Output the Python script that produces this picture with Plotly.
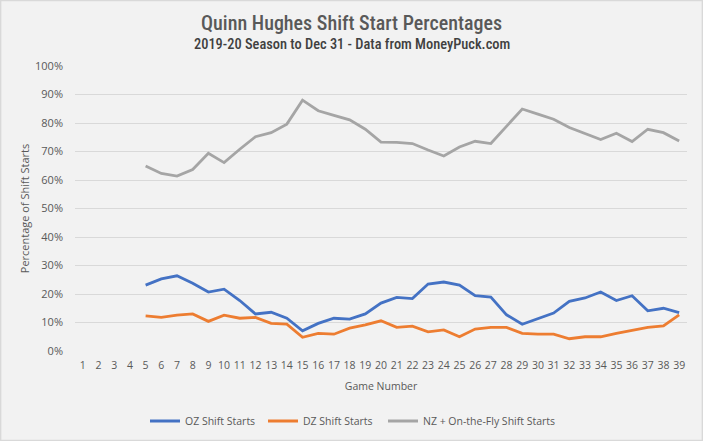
import plotly.graph_objects as go

games = list(range(1, 40))
oz = [None, None, None, None,
      23.1, 25.3, 26.4, 23.8, 20.7, 21.7, 17.7, 13.0, 13.6, 11.5, 7.1, 9.7, 11.5, 11.2, 13.0,
      16.8, 18.8, 18.4, 23.5, 24.2, 23.1, 19.4, 18.9, 12.7, 9.4, 11.3, 13.3, 17.4, 18.6,
      20.7, 17.7, 19.4, 14.1, 15.0, 13.5]
dz = [None, None, None, None,
      12.3, 11.8, 12.6, 13.0, 10.4, 12.6, 11.5, 11.8, 9.7, 9.4, 4.8, 6.2, 5.9, 8.0, 9.2,
      10.6, 8.3, 8.7, 6.7, 7.4, 5.0, 7.7, 8.3, 8.3, 6.2, 5.9, 5.9, 4.3, 5.0,
      5.0, 6.2, 7.3, 8.3, 8.8, 12.7]
nz = [None, None, None, None,
      64.9, 62.3, 61.4, 63.7, 69.4, 66.1, 70.8, 75.2, 76.6, 79.6, 88.0, 84.3, 82.7, 81.1, 77.8,
      73.3, 73.2, 72.8, 70.5, 68.4, 71.6, 73.6, 72.8, 79.0, 84.9, 83.1, 81.3, 78.4, 76.3,
      74.2, 76.4, 73.5, 77.8, 76.6, 73.7]

series = [
    ("OZ Shift Starts", oz, "#4472C4", "legend"),
    ("DZ Shift Starts", dz, "#ED7D31", "legend2"),
    ("NZ + On-the-Fly Shift Starts", nz, "#A5A5A5", "legend3"),
]

fig = go.Figure()
for name, vals, color, lg in series:
    fig.add_trace(go.Scatter(x=games, y=vals, mode="lines", name=name, legend=lg,
                             line=dict(color=color, width=2.8), connectgaps=False))

txt = "#595959"
W, H = 703, 441
PW, PH, ML, MT = 612, 285, 75, 66
title_x = (W / 2 - ML) / PW


def legend_at(px_left, px_mid_y):
    return dict(orientation="h", xref="container", yref="container",
                x=px_left / W, xanchor="left", y=(H - px_mid_y) / H, yanchor="middle",
                font=dict(size=10.5, color=txt), itemwidth=30, bgcolor="rgba(0,0,0,0)")


fig.update_layout(
    width=W, height=H,
    paper_bgcolor="#F2F2F2", plot_bgcolor="#F2F2F2",
    margin=dict(l=ML, r=16, t=MT, b=90, autoexpand=False),
    font=dict(family="Open Sans", size=10.5, color=txt),
    showlegend=True,
    legend=legend_at(145, 421),
    legend2=legend_at(263, 421),
    legend3=legend_at(383, 421),
    xaxis=dict(range=[0.5, 39.5], tickmode="array", tickvals=games, ticktext=[str(g) for g in games],
               showgrid=False, zeroline=False, showline=False, ticks="", automargin=False,
               tickfont=dict(size=10.5, color=txt), ticklabelstandoff=6,
               title=dict(text="Game Number", font=dict(size=10.5, color=txt), standoff=12)),
    yaxis=dict(range=[0, 100], dtick=10, ticksuffix="%", showgrid=True, gridcolor="#D9D9D9",
               gridwidth=1, zeroline=False, showline=False, ticks="", automargin=False,
               tickfont=dict(size=11, color=txt), ticklabelstandoff=11,
               title=dict(text="Percentage of Shift Starts", font=dict(size=11, color=txt), standoff=3)),
    annotations=[
        dict(text="Quinn Hughes Shift Start Percentages", xref="paper", yref="paper",
             x=title_x, y=1, yshift=43, xanchor="center", yanchor="middle", showarrow=False,
             font=dict(family="Roboto Condensed", size=20, weight=500, color=txt)),
        dict(text="2019-20 Season to Dec 31 - Data from MoneyPuck.com", xref="paper", yref="paper",
             x=title_x, y=1, yshift=22, xanchor="center", yanchor="middle", showarrow=False,
             font=dict(family="Roboto Condensed", size=14.4, weight=500, color="#404040")),
    ],
    shapes=[dict(type="rect", xref="paper", yref="paper", x0=-ML / PW + 0.001, x1=1 + 16 / PW - 0.001,
                 y0=-90 / PH + 0.002, y1=1 + MT / PH - 0.002, line=dict(color="#D9D9D9", width=1.5),
                 fillcolor="rgba(0,0,0,0)", layer="below")],
)

fig.write_html("out.html", config={"displayModeBar": False},
               post_script="document.body.style.margin='0';document.body.style.overflow='hidden';")
